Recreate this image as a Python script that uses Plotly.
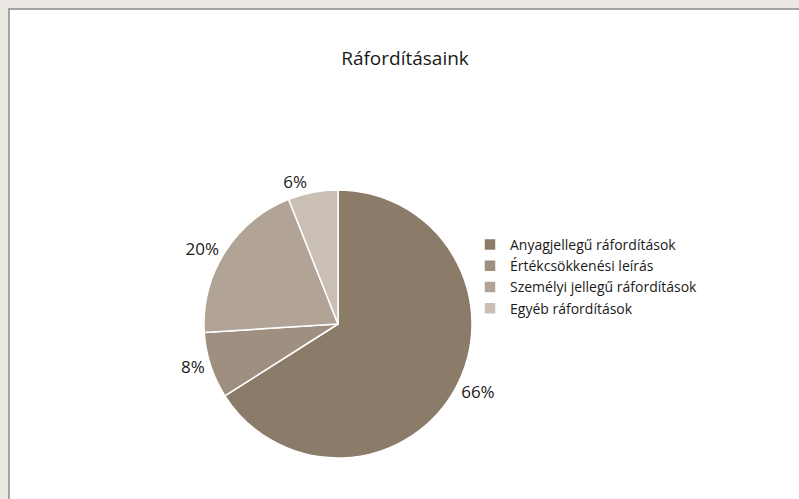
import plotly.graph_objects as go

W, H = 799, 499

categories = ["Anyagjellegű ráfordítások", "Értékcsökkenési leírás",
              "Személyi jellegű ráfordítások", "Egyéb ráfordítások"]
values = [66, 8, 20, 6]
colors = ["#8b7b69", "#9e8f80", "#b1a497", "#c9bfb5"]
title_text = "Ráfordításaink"

cx, cy, r = 338, 324, 134  # pie centre and radius in pixels

fig = go.Figure(go.Pie(
    labels=categories,
    values=values,
    sort=False,
    direction="clockwise",
    rotation=0,
    textinfo="percent",
    textposition="outside",
    texttemplate="%{percent:.0%}",
    textfont=dict(family="Open Sans", size=17, color="#1a1a1a"),
    marker=dict(colors=colors, line=dict(color="white", width=1.5)),
    domain=dict(x=[(cx - r) / W, (cx + r) / W], y=[1 - (cy + r) / H, 1 - (cy - r) / H]),
    hoverinfo="label+percent",
))

bg = "#ece9e4"
border = "#a3a3a3"
fig.update_layout(
    width=W, height=H,
    margin=dict(l=0, r=0, t=0, b=0),
    paper_bgcolor="white",
    title=dict(text=title_text, x=405 / W, xanchor="center", y=1 - 58 / H, yanchor="middle",
               font=dict(family="Open Sans", size=19, color="#1a1a1a")),
    legend=dict(x=470 / W, y=1 - 229 / H, xanchor="left", yanchor="top",
                font=dict(family="Open Sans", size=14, color="#1a1a1a"),
                itemwidth=30, tracegroupgap=0, bgcolor="rgba(0,0,0,0)"),
    shapes=[
        dict(type="rect", xref="paper", yref="paper", x0=0, x1=1, y0=1 - 8 / H, y1=1,
             fillcolor=bg, line=dict(width=0), layer="above"),
        dict(type="rect", xref="paper", yref="paper", x0=0, x1=8 / W, y0=0, y1=1,
             fillcolor=bg, line=dict(width=0), layer="above"),
        dict(type="line", xref="paper", yref="paper", x0=8 / W, x1=1, y0=1 - 9 / H, y1=1 - 9 / H,
             line=dict(color=border, width=2), layer="above"),
        dict(type="line", xref="paper", yref="paper", x0=9 / W, x1=9 / W, y0=0, y1=1 - 8 / H,
             line=dict(color=border, width=2), layer="above"),
    ],
)

fig.write_html("out.html",
               config={"displayModeBar": False},
               post_script="document.body.style.margin='0';document.body.style.overflow='hidden';")
